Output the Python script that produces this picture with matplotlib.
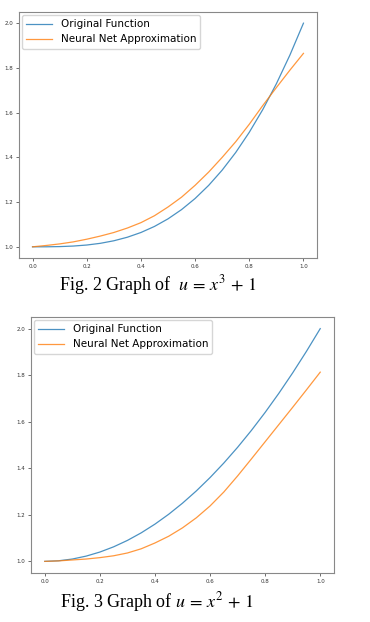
import numpy as np
import matplotlib.pyplot as plt

# valores
x = [0.0, 0.05, 0.1, 0.15, 0.2, 0.25, 0.3, 0.35, 0.4, 0.45, 0.5,
     0.55, 0.6, 0.65, 0.7, 0.75, 0.8, 0.85, 0.9, 0.95, 1.0]

# Fig. 2: u = x^3 + 1
orig_cubica = [1.0, 1.0001, 1.001, 1.0034, 1.008, 1.0156, 1.027, 1.0429, 1.064, 1.0911, 1.125,
               1.1664, 1.216, 1.2746, 1.343, 1.4219, 1.512, 1.6141, 1.729, 1.8574, 2.0]
red_cubica = [1.0, 1.006, 1.013, 1.022, 1.034, 1.048, 1.064, 1.084, 1.108, 1.139, 1.178,
              1.222, 1.275, 1.334, 1.400, 1.470, 1.548, 1.632, 1.712, 1.790, 1.865]

# Fig. 3: u = x^2 + 1
orig_cuadratica = [1.0, 1.0025, 1.01, 1.0225, 1.04, 1.0625, 1.09, 1.1225, 1.16, 1.2025, 1.25,
                   1.3025, 1.36, 1.4225, 1.49, 1.5625, 1.64, 1.7225, 1.81, 1.9025, 2.0]
red_cuadratica = [1.0, 1.002, 1.006, 1.010, 1.016, 1.024, 1.036, 1.054, 1.079, 1.108, 1.144,
                  1.187, 1.238, 1.298, 1.367, 1.440, 1.514, 1.588, 1.662, 1.737, 1.813]

etiquetas = ["Original Function", "Neural Net Approximation"]
pies = [r"Fig. 2 Graph of  $u\,=\,x^3\,+\,1$", r"Fig. 3 Graph of $u\,=\,x^2\,+\,1$"]

plt.rcParams['mathtext.fontset'] = 'stix'

fig = plt.figure(figsize=(3.7, 6.22), dpi=100)

ax1 = fig.add_axes([19 / 370, (622 - 258) / 622, 298 / 370, 246 / 622])
ax2 = fig.add_axes([31 / 370, (622 - 573) / 622, 303 / 370, 256 / 622])

datos = [(ax1, orig_cubica, red_cubica), (ax2, orig_cuadratica, red_cuadratica)]

for ax, orig, red in datos:
    ax.plot(x, orig, color='tab:blue', linewidth=0.9, alpha=0.8, label=etiquetas[0])
    ax.plot(x, red, color='tab:orange', linewidth=0.9, alpha=0.8, label=etiquetas[1])
    ax.set_xticks([0.0, 0.2, 0.4, 0.6, 0.8, 1.0])
    ax.set_yticks([1.0, 1.2, 1.4, 1.6, 1.8, 2.0])
    ax.tick_params(labelsize=4, length=2, width=0.5, pad=2, colors='#333333')
    for s in ax.spines.values():
        s.set_color('#888888')
        s.set_linewidth(0.8)
    ax.legend(loc='upper left', fontsize=7.5, borderaxespad=0.3, handlelength=2.5)

fig.text(158 / 370, 1 - 285 / 622, pies[0], ha='center', va='center',
         fontsize=13, family='Liberation Serif')
fig.text(157 / 370, 1 - 602 / 622, pies[1], ha='center', va='center',
         fontsize=13, family='Liberation Serif')

plt.savefig('out.png', dpi=100)
